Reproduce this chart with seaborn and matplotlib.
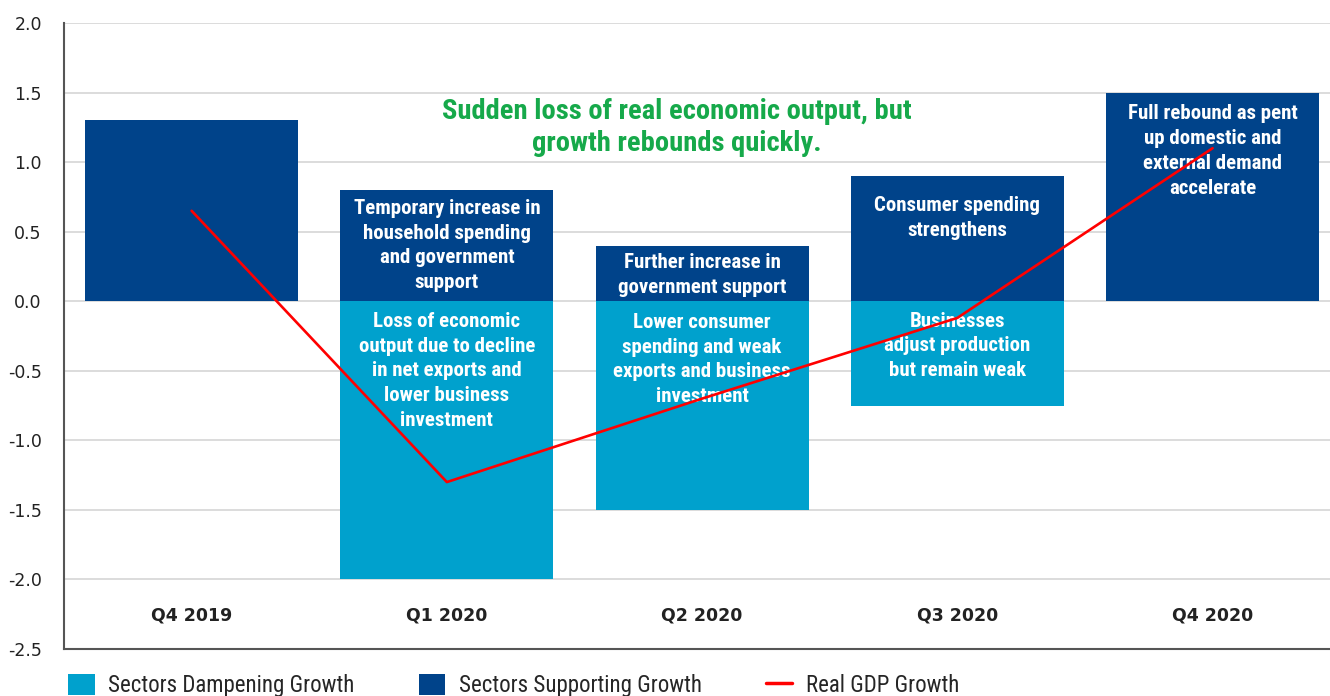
import numpy as np
import pandas as pd
import matplotlib
matplotlib.use("Agg")
import matplotlib.pyplot as plt
import seaborn as sns
from matplotlib.patches import Patch
from matplotlib.lines import Line2D

# ---------------- data ----------------
categories = ["Q4 2019", "Q1 2020", "Q2 2020", "Q3 2020", "Q4 2020"]
supporting = [1.3, 0.8, 0.4, 0.9, 1.5]
dampening = [0.0, -2.0, -1.5, -0.75, 0.0]
gdp_growth = [0.65, -1.3, -0.7, -0.12, 1.1]

supporting_notes = [
    "",
    "Temporary increase in\nhousehold spending\nand government\nsupport",
    "Further increase in\ngovernment support",
    "Consumer spending\nstrengthens",
    "Full rebound as pent\nup domestic and\nexternal demand\naccelerate",
]
dampening_notes = [
    "",
    "Loss of economic\noutput due to decline\nin net exports and\nlower business\ninvestment",
    "Lower consumer\nspending and weak\nexports and business\ninvestment",
    "Businesses\nadjust production\nbut remain weak",
    "",
]
headline = "Sudden loss of real economic output, but\ngrowth rebounds quickly."
y_ticks = [-2.5, -2.0, -1.5, -1.0, -0.5, 0.0, 0.5, 1.0, 1.5, 2.0]
legend_labels = ["Sectors Dampening Growth", "Sectors Supporting Growth", "Real GDP Growth"]

# ---------------- style ----------------
sns.set_style("white")
plt.rcParams["font.family"] = ["DejaVu Sans"]
plt.rcParams["axes.unicode_minus"] = False
COND = ["Liberation Sans Narrow", "Roboto Condensed", "Open Sans Condensed", "DejaVu Sans"]

DARK = "#00438a"
LIGHT = "#00a1cd"
RED = "#ff0000"
GREEN = "#16a94a"

fig = plt.figure(figsize=(13.3, 6.96), dpi=100)
ax = fig.add_axes([64 / 1330, 1 - 649 / 696, 1 - 64 / 1330, (649 - 23) / 696])

df = pd.DataFrame({"category": categories, "supporting": supporting,
                   "dampening": dampening, "gdp": gdp_growth})
pos = np.arange(len(categories))

sns.barplot(data=df, x="category", y="supporting", color=DARK, width=0.835,
            saturation=1, ax=ax, zorder=2, linewidth=0)
sns.barplot(data=df, x="category", y="dampening", color=LIGHT, width=0.835,
            saturation=1, ax=ax, zorder=2, linewidth=0)
sns.lineplot(x=pos, y=df["gdp"], color=RED, linewidth=1.9, ax=ax, zorder=5)

ax.set_xlim(-0.5, 4.46)
ax.set_ylim(-2.5, 2.0)
ax.set_yticks(y_ticks)
ax.set_yticklabels([f"{v:.1f}" for v in y_ticks], fontsize=12.5, color="#222222")
ax.tick_params(axis="y", length=0, pad=16)
ax.set_xticks([])
ax.set_xlabel("")
ax.set_ylabel("")
ax.grid(axis="y", color="#d9d9d9", linewidth=1.3, zorder=0)
ax.set_axisbelow(True)
for s in ["top", "right"]:
    ax.spines[s].set_visible(False)
for s in ["left", "bottom"]:
    ax.spines[s].set_color("#555555")
    ax.spines[s].set_linewidth(1.5)

# category labels inside plot area
for i, c in enumerate(categories):
    ax.text(i, -2.26, c, ha="center", va="center", fontsize=12.5,
            fontweight="bold", color="#222222")

# notes
sup_note_y = [None, 0.40, 0.19, 0.60, 1.08]
damp_note_y = [None, -0.50, -0.42, -0.32, None]
for i in range(len(categories)):
    if supporting_notes[i]:
        ax.text(i, sup_note_y[i], supporting_notes[i], ha="center", va="center",
                color="white", fontsize=15, fontweight="bold", family=COND,
                linespacing=1.38, zorder=4)
    if dampening_notes[i]:
        ax.text(i, damp_note_y[i], dampening_notes[i], ha="center", va="center",
                color="white", fontsize=15, fontweight="bold", family=COND,
                linespacing=1.38, zorder=4)

ax.text(1.90, 1.25, headline, ha="center", va="center", color=GREEN,
        fontsize=20.5, fontweight="bold", family=COND, linespacing=1.21, zorder=4)

handles = [Patch(facecolor=LIGHT, edgecolor="none"),
           Patch(facecolor=DARK, edgecolor="none"),
           Line2D([0], [0], color=RED, linewidth=2.5)]
leg = fig.legend(handles, legend_labels, loc="upper left",
                 bbox_to_anchor=(59 / 1330, 1 - 665 / 696), ncol=3, frameon=False,
                 prop={"family": COND, "size": 16.5}, handlelength=1.15,
                 handleheight=1.0, columnspacing=2.8, handletextpad=0.6,
                 borderaxespad=0)

fig.savefig("out.png", dpi=100)
